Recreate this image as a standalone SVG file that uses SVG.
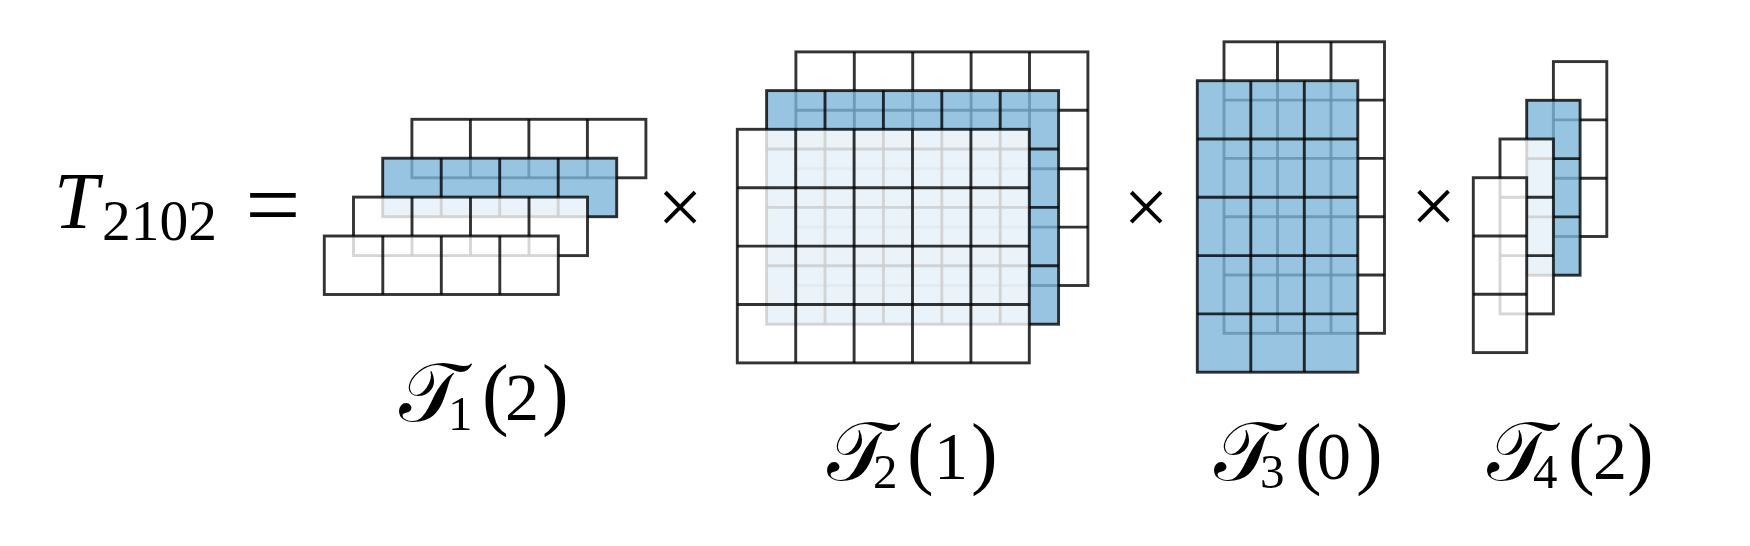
<svg xmlns="http://www.w3.org/2000/svg" width="1750" height="546" viewBox="0 0 1750 546">
<style>
.fw{fill:#ffffff;fill-opacity:0.8}
.fb{fill:#7db5d8;fill-opacity:0.8}
.ln{fill:none;stroke:#000;stroke-opacity:0.8;stroke-width:2.9}
.t{font-family:"Liberation Serif","DejaVu Serif",serif;fill:#000}
.cal{font-family:"DejaVu Sans","Noto Sans","DejaVu Serif",serif}
</style>
<rect width="1750" height="546" fill="#fff"/>

<g id="lhs">
<text class="t" y="228"><tspan x="54" font-size="80" font-style="italic">T</tspan><tspan x="102" y="240" font-size="56" textLength="115" lengthAdjust="spacingAndGlyphs">2102</tspan></text>
<text class="t" x="273" y="237" font-size="98" text-anchor="middle">=</text>
</g>

<g id="T1">
<g id="T1-layer3">
<rect class="fw" x="411.9" y="119.3" width="234" height="58.5"/>
<rect class="ln" x="411.9" y="119.3" width="234" height="58.5"/>
<path class="ln" d="M470.4 119.3V177.8M528.9 119.3V177.8M587.4 119.3V177.8"/>
</g>
<g id="T1-layer2">
<rect class="fb" x="382.7" y="158.2" width="234" height="58.5"/>
<rect class="ln" x="382.7" y="158.2" width="234" height="58.5"/>
<path class="ln" d="M441.2 158.2V216.7M499.7 158.2V216.7M558.2 158.2V216.7"/>
</g>
<g id="T1-layer1">
<rect class="fw" x="353.5" y="197.1" width="234" height="58.5"/>
<rect class="ln" x="353.5" y="197.1" width="234" height="58.5"/>
<path class="ln" d="M412 197.1V255.6M470.5 197.1V255.6M529 197.1V255.6"/>
</g>
<g id="T1-layer0">
<rect class="fw" x="324.3" y="236" width="234" height="58.5"/>
<rect class="ln" x="324.3" y="236" width="234" height="58.5"/>
<path class="ln" d="M382.8 236V294.5M441.3 236V294.5M499.8 236V294.5"/>
</g>
<text class="t" y="421"><tspan class="cal" x="399" font-size="83">𝒯</tspan><tspan x="448" y="430" font-size="49">1</tspan><tspan x="482" y="420" font-size="80">(</tspan><tspan x="505" font-size="68">2</tspan><tspan x="542" font-size="80">)</tspan></text>
</g>

<g id="times1"><text class="t" x="680" y="234" font-size="80" text-anchor="middle">×</text></g>

<g id="T2">
<g id="T2-layer2">
<rect class="fw" x="795.9" y="51.9" width="292" height="233.6"/>
<rect class="ln" x="795.9" y="51.9" width="292" height="233.6"/>
<path class="ln" d="M854.3 51.9V285.5M912.7 51.9V285.5M971.1 51.9V285.5M1029.5 51.9V285.5"/>
<path class="ln" d="M795.9 110.3H1087.9M795.9 168.7H1087.9M795.9 227.1H1087.9"/>
</g>
<g id="T2-layer1">
<rect class="fb" x="766.6" y="90.6" width="292" height="233.6"/>
<rect class="ln" x="766.6" y="90.6" width="292" height="233.6"/>
<path class="ln" d="M825 90.6V324.2M883.4 90.6V324.2M941.8 90.6V324.2M1000.2 90.6V324.2"/>
<path class="ln" d="M766.6 149H1058.6M766.6 207.4H1058.6M766.6 265.8H1058.6"/>
</g>
<g id="T2-layer0">
<rect class="fw" x="737.3" y="129.3" width="292" height="233.6"/>
<rect class="ln" x="737.3" y="129.3" width="292" height="233.6"/>
<path class="ln" d="M795.7 129.3V362.9M854.1 129.3V362.9M912.5 129.3V362.9M970.9 129.3V362.9"/>
<path class="ln" d="M737.3 187.7H1029.3M737.3 246.1H1029.3M737.3 304.5H1029.3"/>
</g>
<text class="t" y="480"><tspan class="cal" x="827" font-size="83">𝒯</tspan><tspan x="873" y="488" font-size="49">2</tspan><tspan x="907" y="479" font-size="80">(</tspan><tspan x="934" font-size="68">1</tspan><tspan x="971" font-size="80">)</tspan></text>
</g>

<g id="times2"><text class="t" x="1146" y="234" font-size="80" text-anchor="middle">×</text></g>

<g id="T3">
<g id="T3-layer1">
<rect class="fw" x="1224" y="41.8" width="160.5" height="291.5"/>
<rect class="ln" x="1224" y="41.8" width="160.5" height="291.5"/>
<path class="ln" d="M1277.5 41.8V333.3M1331 41.8V333.3"/>
<path class="ln" d="M1224 100.1H1384.5M1224 158.4H1384.5M1224 216.7H1384.5M1224 275H1384.5"/>
</g>
<g id="T3-layer0">
<rect class="fb" x="1197.3" y="80.7" width="160.5" height="291.5"/>
<rect class="ln" x="1197.3" y="80.7" width="160.5" height="291.5"/>
<path class="ln" d="M1250.8 80.7V372.2M1304.3 80.7V372.2"/>
<path class="ln" d="M1197.3 139H1357.8M1197.3 197.3H1357.8M1197.3 255.6H1357.8M1197.3 313.9H1357.8"/>
</g>
<text class="t" y="480"><tspan class="cal" x="1214" font-size="83">𝒯</tspan><tspan x="1260" y="488" font-size="49">3</tspan><tspan x="1295" y="479" font-size="80">(</tspan><tspan x="1317" font-size="68">0</tspan><tspan x="1356" font-size="80">)</tspan></text>
</g>

<g id="times3"><text class="t" x="1433.5" y="233" font-size="80" text-anchor="middle">×</text></g>

<g id="T4">
<g id="T4-layer3">
<rect class="fw" x="1553.4" y="61.6" width="53.4" height="174.9"/>
<rect class="ln" x="1553.4" y="61.6" width="53.4" height="174.9"/>
<path class="ln" d="M1553.4 119.9H1606.8M1553.4 178.2H1606.8"/>
</g>
<g id="T4-layer2">
<rect class="fb" x="1526.7" y="100.3" width="53.4" height="174.9"/>
<rect class="ln" x="1526.7" y="100.3" width="53.4" height="174.9"/>
<path class="ln" d="M1526.7 158.6H1580.1M1526.7 216.9H1580.1"/>
</g>
<g id="T4-layer1">
<rect class="fw" x="1500" y="139" width="53.4" height="174.9"/>
<rect class="ln" x="1500" y="139" width="53.4" height="174.9"/>
<path class="ln" d="M1500 197.3H1553.4M1500 255.6H1553.4"/>
</g>
<g id="T4-layer0">
<rect class="fw" x="1473.3" y="177.7" width="53.4" height="174.9"/>
<rect class="ln" x="1473.3" y="177.7" width="53.4" height="174.9"/>
<path class="ln" d="M1473.3 236H1526.7M1473.3 294.3H1526.7"/>
</g>
<text class="t" y="480"><tspan class="cal" x="1487" font-size="83">𝒯</tspan><tspan x="1533" y="488" font-size="49">4</tspan><tspan x="1568" y="479" font-size="80">(</tspan><tspan x="1593" font-size="68">2</tspan><tspan x="1627" font-size="80">)</tspan></text>
</g>
</svg>
